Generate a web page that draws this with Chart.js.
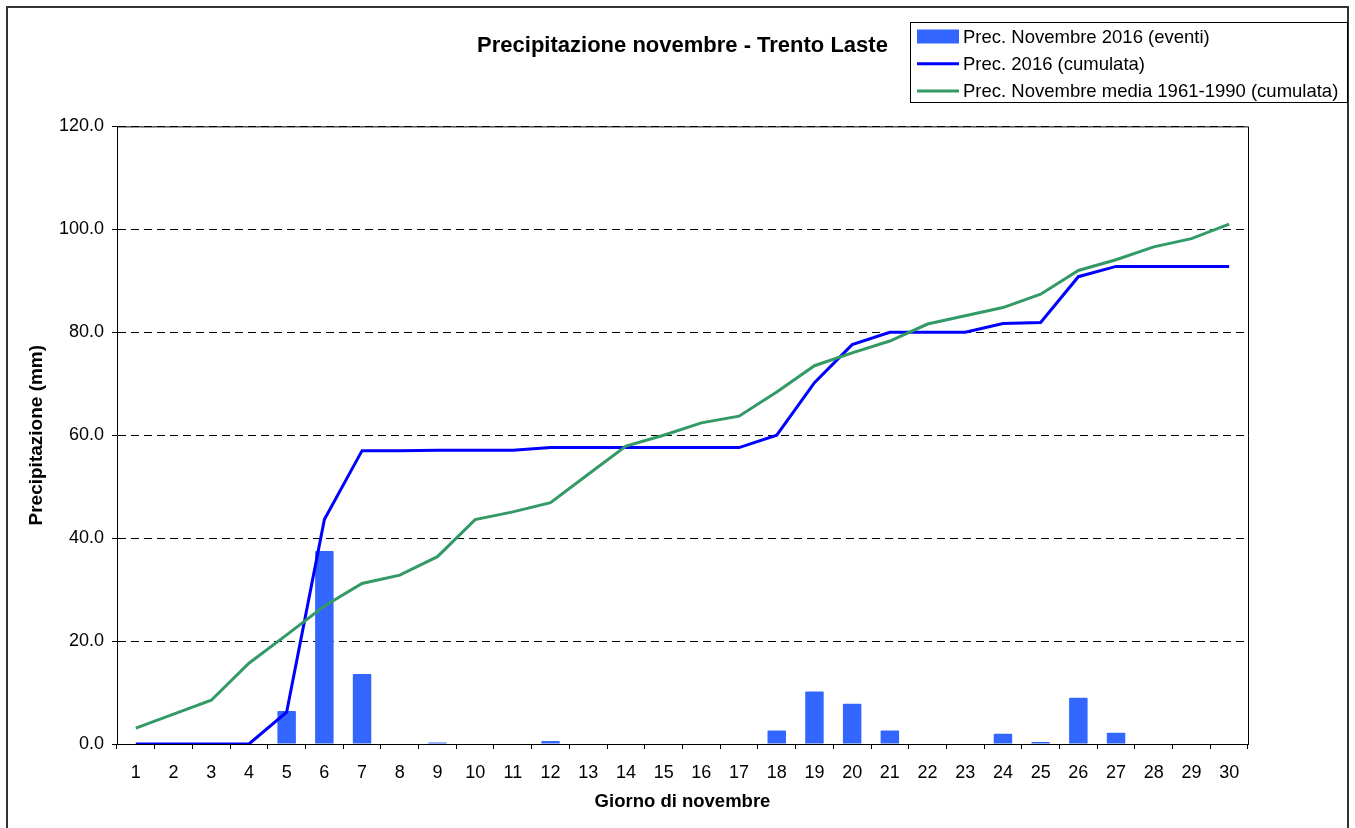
<!DOCTYPE html>
<html lang="it">
<head>
<meta charset="utf-8">
<title>Precipitazione novembre - Trento Laste</title>
<script src="https://cdn.jsdelivr.net/npm/chart.js@4/dist/chart.umd.min.js"></script>
<style>
    html, body { margin: 0; padding: 0; background: #ffffff; }
    canvas { display: block; }
</style>
</head>
<body>
<canvas id="precChart" width="1355" height="828"></canvas>
<script>
// Dati
const giorni = ['1','2','3','4','5','6','7','8','9','10','11','12','13','14','15','16','17','18','19','20','21','22','23','24','25','26','27','28','29','30'];
const eventi2016 = [0, 0, 0, 0, 6.4, 37.5, 13.6, 0, 0.3, 0, 0, 0.6, 0, 0, 0, 0, 0, 2.6, 10.2, 7.8, 2.6, 0, 0, 2.0, 0.4, 9.0, 2.2, 0, 0, 0];
const cumulata2016 = [0, 0, 0, 0, 6.2, 43.6, 57.0, 57.0, 57.1, 57.1, 57.1, 57.6, 57.6, 57.6, 57.6, 57.6, 57.6, 60.0, 70.2, 77.6, 80.0, 80.0, 80.0, 81.7, 81.9, 90.8, 92.8, 92.8, 92.8, 92.8];
const cumulataMedia = [3.1, 5.8, 8.5, 15.7, 21.2, 26.8, 31.2, 32.8, 36.4, 43.6, 45.1, 46.9, 52.4, 57.9, 60.0, 62.4, 63.7, 68.4, 73.5, 76.0, 78.3, 81.6, 83.2, 84.8, 87.4, 92.0, 94.1, 96.6, 98.2, 101.0];
const yTicks = [0, 20, 40, 60, 80, 100, 120];

const FONT = "Arial, 'Liberation Sans', sans-serif";

// cornice esterna + bordo area grafico
const framePlugin = {
    id: 'frame',
    beforeDraw(chart) {
        const ctx = chart.ctx;
        ctx.save();
        ctx.fillStyle = '#ffffff';
        ctx.fillRect(0, 0, chart.width, chart.height);
        ctx.strokeStyle = '#333333';
        ctx.lineWidth = 2;
        ctx.strokeRect(7, 7, chart.width - 14, chart.height + 10);
        ctx.restore();
    },
    afterDraw(chart) {
        const {ctx, chartArea} = chart;
        ctx.save();
        ctx.strokeStyle = '#000000';
        ctx.lineWidth = 1;
        ctx.beginPath();
        ctx.moveTo(chartArea.left, chartArea.top + 0.5);
        ctx.lineTo(chartArea.right + 0.5, chartArea.top + 0.5);
        ctx.lineTo(chartArea.right + 0.5, chartArea.bottom);
        ctx.stroke();
        ctx.restore();
    }
};

// legenda in riquadro (in alto a destra)
const boxLegendPlugin = {
    id: 'boxLegend',
    afterDraw(chart) {
        const ctx = chart.ctx;
        const box = {x: 910, y: 22, w: 437, h: 80};
        ctx.save();
        ctx.fillStyle = '#ffffff';
        ctx.fillRect(box.x, box.y, box.w, box.h);
        ctx.strokeStyle = '#000000';
        ctx.lineWidth = 1;
        ctx.strokeRect(box.x + 0.5, box.y + 0.5, box.w, box.h);

        ctx.font = '18.5px ' + FONT;
        ctx.textBaseline = 'middle';
        ctx.fillStyle = '#000000';
        chart.data.datasets.forEach((ds, i) => {
            const cy = box.y + 14.5 + i * 27.3;
            if (ds.type === 'line') {
                ctx.strokeStyle = ds.borderColor;
                ctx.lineWidth = 3;
                ctx.beginPath();
                ctx.moveTo(917, cy);
                ctx.lineTo(959, cy);
                ctx.stroke();
            } else {
                ctx.fillStyle = ds.backgroundColor;
                ctx.fillRect(917, cy - 7, 42, 14);
                ctx.fillStyle = '#000000';
            }
            ctx.fillText(ds.label, 963, cy + 1);
        });
        ctx.restore();
    }
};

function buildChart() {
    const ctx = document.getElementById('precChart').getContext('2d');
    new Chart(ctx, {
        type: 'bar',
        data: {
            labels: giorni,
            datasets: [
                {
                    type: 'bar',
                    label: 'Prec. Novembre 2016 (eventi)',
                    data: eventi2016,
                    backgroundColor: '#3366FF',
                    borderWidth: 0,
                    borderRadius: 1,
                    barPercentage: 0.49,
                    categoryPercentage: 1.0,
                    order: 3
                },
                {
                    type: 'line',
                    label: 'Prec. 2016 (cumulata)',
                    data: cumulata2016,
                    borderColor: '#0000FF',
                    backgroundColor: '#0000FF',
                    borderWidth: 3,
                    pointRadius: 0,
                    tension: 0,
                    order: 2
                },
                {
                    type: 'line',
                    label: 'Prec. Novembre media 1961-1990 (cumulata)',
                    data: cumulataMedia,
                    borderColor: '#339966',
                    backgroundColor: '#339966',
                    borderWidth: 3,
                    pointRadius: 0,
                    tension: 0,
                    order: 1
                }
            ]
        },
        options: {
            responsive: false,
            animation: false,
            devicePixelRatio: 1,
            layout: {
                padding: {left: 8, right: 107, top: 0, bottom: 0}
            },
            plugins: {
                legend: {display: false},
                tooltip: {enabled: false},
                title: {
                    display: true,
                    fullSize: false,
                    text: 'Precipitazione novembre - Trento Laste',
                    color: '#000000',
                    font: {family: FONT, size: 22, weight: 'bold'},
                    padding: {top: 33, bottom: 67}
                }
            },
            scales: {
                x: {
                    offset: true,
                    afterFit: (scale) => { scale.height = 84; },
                    grid: {
                        offset: true,
                        drawOnChartArea: false,
                        drawTicks: true,
                        tickLength: 5,
                        tickColor: '#000000',
                        color: '#000000'
                    },
                    border: {display: true, color: '#000000', width: 1},
                    ticks: {
                        color: '#000000',
                        font: {family: FONT, size: 18},
                        padding: 13,
                        maxRotation: 0,
                        autoSkip: false
                    },
                    title: {
                        display: true,
                        text: 'Giorno di novembre',
                        color: '#000000',
                        font: {family: FONT, size: 18.5, weight: 'bold'},
                        padding: {top: 0, bottom: 15}
                    }
                },
                y: {
                    min: yTicks[0],
                    max: yTicks[yTicks.length - 1],
                    afterFit: (scale) => { scale.width = 109; },
                    afterBuildTicks: (scale) => { scale.ticks = yTicks.map(v => ({value: v})); },
                    grid: {
                        color: (c) => (c.tick && c.tick.value === 0) ? 'rgba(0,0,0,0)' : '#000000',
                        lineWidth: 1,
                        tickLength: 5,
                        tickColor: '#000000'
                    },
                    border: {display: true, color: '#000000', width: 1, dash: [8, 5]},
                    ticks: {
                        color: '#000000',
                        font: {family: FONT, size: 18},
                        padding: 8,
                        callback: (v) => Number(v).toFixed(1)
                    },
                    title: {
                        display: true,
                        text: 'Precipitazione (mm)',
                        color: '#000000',
                        font: {family: FONT, size: 19, weight: 'bold'},
                        padding: {top: 17, bottom: 0}
                    }
                }
            }
        },
        plugins: [framePlugin, boxLegendPlugin]
    });
}

document.addEventListener('DOMContentLoaded', () => {
    buildChart();
});
</script>
</body>
</html>
